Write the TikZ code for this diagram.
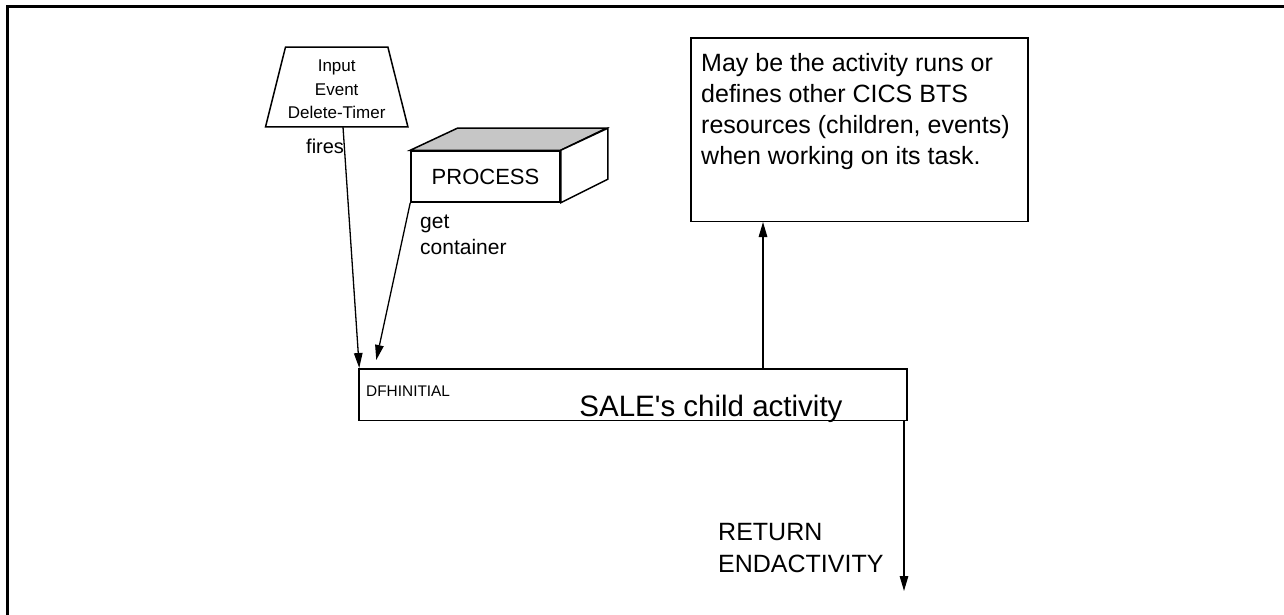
\documentclass[tikz,border=0pt]{standalone}
\usepackage{fontspec}
\setmainfont{Liberation Sans}[Ligatures=TeXOff]
\usetikzlibrary{arrows.meta,calc}
\newcommand\fsz[2]{\fontsize{#1}{#2}\selectfont}
\begin{document}
\begin{tikzpicture}[x=1pt,y=-1pt,
  line/.style={draw=black, line width=1.5pt},
  arrow/.style={draw=black, line width=1.3pt, -{Triangle[length=15pt,width=8.5pt]}},
  box/.style={line, fill=white, inner sep=0pt},
  frame/.style={draw=black, line width=2.2pt},
  txt/.style={inner sep=0pt, anchor=base west},
]
\useasboundingbox (0,0) rectangle (1284,615);
\draw[frame] (7.5,615) -- (7.5,6.5) -- (1284,6.5);

% input event (trapezium)
\node[minimum width=142, minimum height=79.4, inner sep=0pt] (trig) at (336.7,87) {};
\draw[line, fill=white] ($(trig.north west)+(20,0)$) -- ($(trig.north east)+(-20,0)$)
  -- (trig.south east) -- (trig.south west) -- cycle;
\node[inner sep=0pt, align=center, font=\fsz{17}{23.5}] (trigtext) at (336.7,89.7)
  {Input\\Event\\Delete-Timer};

% process (3D box)
\node[box, minimum width=149, minimum height=51, font=\fsz{22}{26}] (proc) at (485.5,176.5) {PROCESS};
\draw[line, fill=gray!45] (proc.north west) -- ++(47,-22) -- ++(149,0) -- (proc.north east) -- cycle;
\draw[line, fill=white] (proc.north east) -- ++(47,-22) -- ++(0,51) -- (proc.south east) -- cycle;

% note box
\node[box, minimum width=337, minimum height=183] (note) at (859.5,129.75) {};
\node[txt, font=\fsz{25}{31}] (notetext) at (701,71.3)
  {\begin{tabular}[t]{@{}l@{}}May be the activity runs or\\defines other CICS BTS\\resources (children, events)\\when working on its task.\end{tabular}};

% child activity box
\node[box, minimum width=548, minimum height=51.5] (main) at (633,394.5) {};
\node[txt, font=\fsz{15.4}{18}] (dfh) at (366,396.5) {DFHINITIAL};
\node[inner sep=0pt, anchor=base, font=\fsz{29.5}{34}] (mainlbl) at (711,416) {SALE's child activity};

% labels
\node[txt, font=\fsz{20}{24}] (fires) at (306,153.3) {fires};
\node[txt, font=\fsz{21}{26}] (getc) at (420,228)
  {\begin{tabular}[t]{@{}l@{}}get\\container\end{tabular}};
\node[txt, font=\fsz{25}{32.7}] (ret) at (718,540)
  {\begin{tabular}[t]{@{}l@{}}RETURN\\ENDACTIVITY\end{tabular}};

% connectors
\draw[arrow] ($(trig.south)+(6.3,0)$) -- ($(main.north west)+(1,0)$);
\draw[arrow] (proc.south west) -- ($(main.north west)+(18,-8)$);
\coordinate (upx) at (763,0);
\draw[arrow] (main.north -| upx) -- (note.south -| upx);
\coordinate (retend) at (904,591);
\draw[arrow] (main.south -| retend) -- (retend);
\end{tikzpicture}
\end{document}
